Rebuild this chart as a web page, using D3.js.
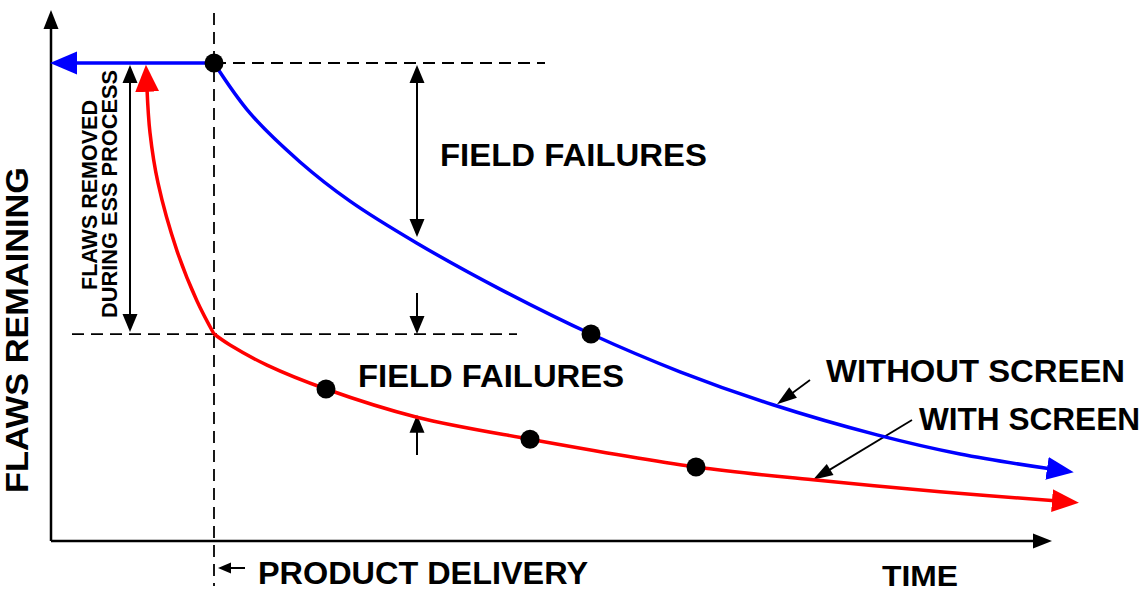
<!DOCTYPE html>
<html>
<head>
<meta charset="utf-8">
<script src="https://cdn.jsdelivr.net/npm/d3@7"></script>
<style>
  html, body { margin: 0; padding: 0; background: #fff; }
  svg { display: block; }
  text { font-family: 'Liberation Sans', Arial, sans-serif; font-weight: bold; fill: #000; }
</style>
</head>
<body>
<script>
// ---------------- data (time units, flaws-remaining units) ----------------
const deliveryTime = 16.3;
const initialFlaws = 100;

// WITHOUT SCREEN curve (after delivery)
const withoutT = [16.3, 19.9, 24.9, 29.9, 36.6, 44.9, 54.0, 62.9, 72.2, 82.6, 90.9, 99.9];
const withoutV = [100, 89.5, 79.3, 71.1, 62.3, 52.7, 43.3, 35.4, 28.5, 22.2, 18.2, 15.1];

// WITH SCREEN: flaws removed during ESS (before delivery)
const screenT = [9.6, 9.9, 10.7, 12.6, 14.6, 16.3];
const screenV = [94.6, 85.4, 74.9, 60.7, 50.2, 43.3];

// WITH SCREEN: field curve (after delivery)
const withT = [16.3, 17.9, 21.6, 27.5, 36.6, 47.9, 64.5, 76.2, 88.9, 100.4];
const withV = [43.3, 41.0, 36.8, 31.8, 25.9, 21.3, 15.5, 12.8, 10.3, 8.4];

// marked points
const withoutDotT = [16.3, 54.0];
const withoutDotV = [100, 43.3];
const withDotT = [27.5, 47.9, 64.5];
const withDotV = [31.8, 21.3, 15.5];

const flawsAtDelivery = 43.3;
const essArrowT = 7.9;
const fieldArrowT = 36.6;

// ---------------- layout ----------------
const W = 1143, H = 593;
const x = d3.scaleLinear().domain([0, 100]).range([51, 1051]);
const y = d3.scaleLinear().domain([0, 100]).range([541, 63]);

const svg = d3.select("body").append("svg").attr("width", W).attr("height", H);
const defs = svg.append("defs");

function marker(id, color, len, wid, refX, startReverse) {
  const m = defs.append("marker")
    .attr("id", id)
    .attr("viewBox", `0 0 ${len} ${wid}`)
    .attr("refX", refX).attr("refY", wid / 2)
    .attr("markerWidth", len).attr("markerHeight", wid)
    .attr("markerUnits", "userSpaceOnUse")
    .attr("orient", startReverse ? "auto-start-reverse" : "auto");
  m.append("path").attr("d", `M0,0L${len},${wid / 2}L0,${wid}Z`).attr("fill", color);
}
marker("blueHead", "#0000ff", 27, 23, 3);
marker("redHead", "#ff0000", 27, 23, 3);
marker("redHeadStart", "#ff0000", 27, 24, 3, true);

// arrowhead polygon at (x2,y2), pointing from (x1,y1)
function head(g, x1, y1, x2, y2, len, wid, color) {
  const dx = x2 - x1, dy = y2 - y1, L = Math.hypot(dx, dy);
  const ux = dx / L, uy = dy / L, px = -uy, py = ux;
  const bx = x2 - ux * len, by = y2 - uy * len;
  g.append("path")
    .attr("d", `M${x2},${y2}L${bx + px * wid / 2},${by + py * wid / 2}L${bx - px * wid / 2},${by - py * wid / 2}Z`)
    .attr("fill", color);
}
function arrow(g, x1, y1, x2, y2, o) {
  const color = o.color || "#000", len = o.len, wid = o.wid;
  const dx = x2 - x1, dy = y2 - y1, L = Math.hypot(dx, dy);
  const ux = dx / L, uy = dy / L;
  const sx = o.both ? x1 + ux * len * 0.6 : x1, sy = o.both ? y1 + uy * len * 0.6 : y1;
  g.append("line")
    .attr("x1", sx).attr("y1", sy)
    .attr("x2", x2 - ux * len * 0.6).attr("y2", y2 - uy * len * 0.6)
    .attr("stroke", color).attr("stroke-width", o.sw);
  head(g, x1, y1, x2, y2, len, wid, color);
  if (o.both) head(g, x2, y2, x1, y1, len, wid, color);
}

const g = svg.append("g");

// dashed guides
const dash = "12,7";
g.append("line").attr("x1", x(deliveryTime)).attr("x2", x(deliveryTime))
  .attr("y1", 13).attr("y2", 586)
  .attr("stroke", "#000").attr("stroke-width", 1.8).attr("stroke-dasharray", dash);
g.append("line").attr("x1", x(deliveryTime)).attr("x2", x(49.4))
  .attr("y1", y(initialFlaws)).attr("y2", y(initialFlaws))
  .attr("stroke", "#000").attr("stroke-width", 1.8).attr("stroke-dasharray", dash);
g.append("line").attr("x1", x(2.1)).attr("x2", x(46.6))
  .attr("y1", y(flawsAtDelivery)).attr("y2", y(flawsAtDelivery))
  .attr("stroke", "#000").attr("stroke-width", 1.8).attr("stroke-dasharray", dash);

// axes
arrow(g, x(0), y(0), x(0), 10, { len: 19, wid: 15, sw: 2.5 });
arrow(g, x(0), y(0), 1052, y(0), { len: 19, wid: 15, sw: 2.5 });

// dimension arrows
arrow(g, x(essArrowT), y(initialFlaws) + 2, x(essArrowT), y(flawsAtDelivery) - 2, { len: 18, wid: 15, sw: 2, both: true });
arrow(g, x(fieldArrowT), y(initialFlaws) + 2, x(fieldArrowT), y(63.6), { len: 18, wid: 15, sw: 2, both: true });
arrow(g, x(fieldArrowT), y(51.9), x(fieldArrowT), y(flawsAtDelivery), { len: 18, wid: 15, sw: 2 });
arrow(g, x(fieldArrowT), y(18.0), x(fieldArrowT), y(26.4), { len: 18, wid: 15, sw: 2 });

// leaders
arrow(g, x(75.9), y(33.7), x(72.6), y(28.6), { len: 20, wid: 13, sw: 1.8 });
arrow(g, x(86.1), y(25.3), x(76.2), y(12.8), { len: 20, wid: 13, sw: 1.8 });

// product delivery small arrow
arrow(g, 245, 568, 218, 568, { len: 13, wid: 11, sw: 2 });

// curves
const line = d3.line().x(d => x(d[0])).y(d => y(d[1])).curve(d3.curveCatmullRom.alpha(0.5));
const zip = (a, b) => a.map((v, i) => [v, b[i]]);

// blue flat segment before delivery
arrow(g, x(deliveryTime), y(initialFlaws), x(0) - 1, y(initialFlaws), { color: "#0000ff", len: 27, wid: 23, sw: 3.5 });

g.append("path").datum(zip(withoutT, withoutV)).attr("d", line)
  .attr("fill", "none").attr("stroke", "#0000ff").attr("stroke-width", 3.5)
  .attr("marker-end", "url(#blueHead)");

g.append("path").datum(zip(screenT, screenV)).attr("d", line)
  .attr("fill", "none").attr("stroke", "#ff0000").attr("stroke-width", 3.5)
  .attr("marker-start", "url(#redHeadStart)");

g.append("path").datum(zip(withT, withV)).attr("d", line)
  .attr("fill", "none").attr("stroke", "#ff0000").attr("stroke-width", 3.5)
  .attr("marker-end", "url(#redHead)");

// dots
g.selectAll(".dotA").data(zip(withoutDotT, withoutDotV)).join("circle")
  .attr("cx", d => x(d[0])).attr("cy", d => y(d[1])).attr("r", 9.5).attr("fill", "#000");
g.selectAll(".dotB").data(zip(withDotT, withDotV)).join("circle")
  .attr("cx", d => x(d[0])).attr("cy", d => y(d[1])).attr("r", 9.5).attr("fill", "#000");

// texts
function label(txt, tx, ty, size, len) {
  const t = g.append("text").attr("x", tx).attr("y", ty).style("font-size", size + "px").text(txt);
  if (len) t.attr("textLength", len).attr("lengthAdjust", "spacingAndGlyphs");
  return t;
}
label("FIELD FAILURES", 440, 166, 32, 267);
label("FIELD FAILURES", 358, 387, 32, 266);
label("WITHOUT SCREEN", 826, 382, 32, 299);
label("WITH SCREEN", 919, 430, 32, 221);
label("PRODUCT DELIVERY", 258, 584, 32, 330);
label("TIME", 882, 586, 30, 76);

g.append("text").attr("transform", "translate(28,330) rotate(-90)")
  .attr("text-anchor", "middle").style("font-size", "32px")
  .attr("textLength", 326).attr("lengthAdjust", "spacingAndGlyphs")
  .text("FLAWS REMAINING");
g.append("text").attr("transform", "translate(97,195) rotate(-90)")
  .attr("text-anchor", "middle").style("font-size", "22px")
  .attr("textLength", 190).attr("lengthAdjust", "spacingAndGlyphs")
  .text("FLAWS REMOVED");
g.append("text").attr("transform", "translate(117,194) rotate(-90)")
  .attr("text-anchor", "middle").style("font-size", "22px")
  .attr("textLength", 248).attr("lengthAdjust", "spacingAndGlyphs")
  .text("DURING ESS PROCESS");
</script>
</body>
</html>
